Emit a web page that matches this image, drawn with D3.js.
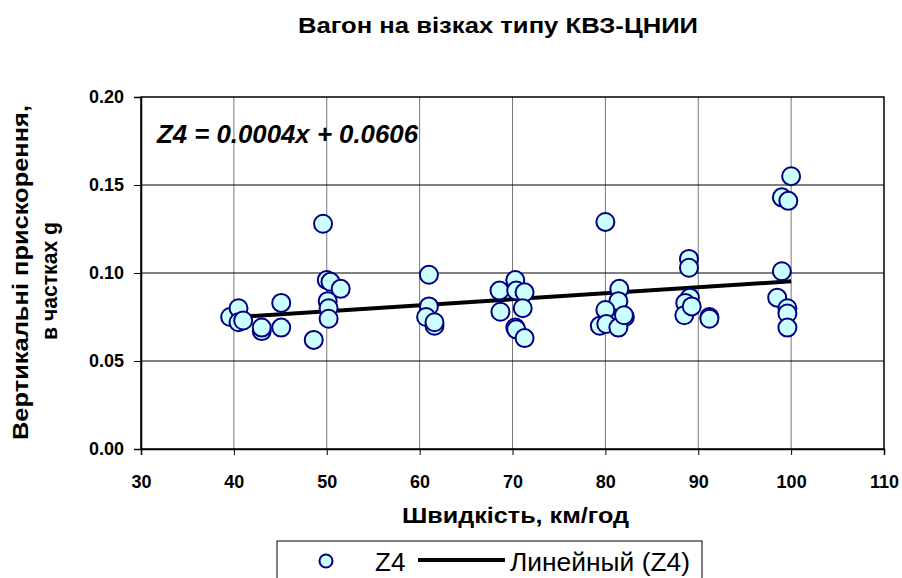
<!DOCTYPE html>
<html>
<head>
<meta charset="utf-8">
<script src="https://cdn.jsdelivr.net/npm/d3@7"></script>
<style>
  body { margin: 0; background: #fff; }
  svg { font-family: "Liberation Sans", Arial, sans-serif; }
</style>
</head>
<body>
<svg id="chart" width="902" height="578"></svg>
<script>
// speed, km/h
const speed = [
  39.6, 40.5, 40.5, 41.0, 43.0, 43.0, 45.1, 45.1, 48.6, 49.6, 50.0, 50.4, 51.5, 50.1, 50.2, 50.2,
  61.0, 61.0, 60.7, 61.6, 61.6, 68.6, 68.7, 70.3, 70.4, 71.3, 71.1, 70.3, 70.4, 71.3,
  80.0, 81.5, 81.4, 80.0, 79.4, 80.1, 82.1, 81.4, 82.0,
  89.0, 89.0, 89.1, 88.6, 88.5, 89.3, 91.2, 91.2,
  100.0, 99.0, 99.7, 99.0, 98.5, 99.6, 99.6, 99.6
];
// vertical acceleration, g
const accel = [
  0.075, 0.080, 0.072, 0.073, 0.067, 0.069, 0.083, 0.069, 0.062, 0.128, 0.096, 0.095, 0.091, 0.084, 0.080, 0.074,
  0.099, 0.081, 0.075, 0.070, 0.072, 0.090, 0.078, 0.096, 0.090, 0.089, 0.080, 0.069, 0.068, 0.063,
  0.129, 0.091, 0.084, 0.079, 0.070, 0.071, 0.075, 0.069, 0.076,
  0.108, 0.103, 0.086, 0.083, 0.076, 0.081, 0.075, 0.074,
  0.155, 0.143, 0.141, 0.101, 0.086, 0.080, 0.077, 0.069
];
const xTicks = [30, 40, 50, 60, 70, 80, 90, 100, 110];
const yTicks = [0, 0.05, 0.10, 0.15, 0.20];

const points = speed.map((s, i) => ({ x: s, y: accel[i] }));

const svg = d3.select('#chart');
const pl = 141, pr = 884, pt = 97, pb = 449;

const x = d3.scaleLinear().domain([30, 110]).range([pl, pr]);
const y = d3.scaleLinear().domain([0, 0.2]).range([pb, pt]);

// least squares trend
const mx = d3.mean(speed), my = d3.mean(accel);
const slope = d3.sum(points, d => (d.x - mx) * (d.y - my)) / d3.sum(points, d => (d.x - mx) ** 2);
const icpt = my - slope * mx;
const trend = d3.extent(speed).map(v => ({ x: v, y: icpt + slope * v }));

// title
svg.append('text')
  .attr('x', 298).attr('y', 33)
  .attr('textLength', 400).attr('lengthAdjust', 'spacingAndGlyphs')
  .style('font-size', '22px').style('font-weight', 'bold')
  .text('Вагон на візках типу КВЗ-ЦНИИ');

// grid
svg.append('g')
  .selectAll('line')
  .data(xTicks.slice(1, -1))
  .join('line')
  .attr('x1', d => x(d)).attr('x2', d => x(d))
  .attr('y1', pt).attr('y2', pb)
  .attr('stroke', '#777').attr('stroke-width', 1);

svg.append('g')
  .selectAll('line')
  .data(yTicks.slice(1, -1))
  .join('line')
  .attr('x1', pl).attr('x2', pr)
  .attr('y1', d => y(d)).attr('y2', d => y(d))
  .attr('stroke', '#000').attr('stroke-width', 1);

// plot border
svg.append('rect')
  .attr('x', pl).attr('y', pt)
  .attr('width', pr - pl).attr('height', pb - pt)
  .attr('fill', 'none').attr('stroke', '#000').attr('stroke-width', 1.5);

// axes
const xAxis = svg.append('g')
  .attr('transform', `translate(0,${pb})`)
  .call(d3.axisBottom(x).tickValues(xTicks).tickSize(6).tickPadding(20).tickFormat(d3.format('d')));
const yAxis = svg.append('g')
  .attr('transform', `translate(${pl},0)`)
  .call(d3.axisLeft(y).tickValues(yTicks).tickSize(7).tickPadding(10).tickFormat(d3.format('.2f')));

[xAxis, yAxis].forEach(a => {
  a.select('.domain').attr('stroke', '#000').attr('stroke-width', 1.5);
  a.selectAll('.tick line').attr('stroke', '#000');
  a.selectAll('.tick text')
    .attr('fill', '#000')
    .style('font-size', '18px')
    .style('font-weight', 'bold')
    .style('font-family', '"Liberation Sans", Arial, sans-serif');
});

// trend line
svg.append('path')
  .datum(trend)
  .attr('d', d3.line().x(d => x(d.x)).y(d => y(d.y)))
  .attr('stroke', '#000').attr('stroke-width', 4).attr('fill', 'none');

// points
svg.append('g')
  .selectAll('circle')
  .data(points)
  .join('circle')
  .attr('cx', d => x(d.x)).attr('cy', d => y(d.y))
  .attr('r', 9)
  .attr('fill', '#ccffff')
  .attr('stroke', '#000080').attr('stroke-width', 2);

// equation
svg.append('text')
  .attr('x', 157).attr('y', 143)
  .attr('textLength', 261).attr('lengthAdjust', 'spacingAndGlyphs')
  .style('font-size', '26px').style('font-weight', 'bold').style('font-style', 'italic')
  .text('Z4 = 0.0004x + 0.0606');

// axis titles
svg.append('text')
  .attr('x', 402).attr('y', 523)
  .attr('textLength', 227).attr('lengthAdjust', 'spacingAndGlyphs')
  .style('font-size', '22px').style('font-weight', 'bold')
  .text('Швидкість, км/год');

const yt = svg.append('g')
  .attr('transform', 'rotate(-90)')
  .style('font-size', '22px').style('font-weight', 'bold');
yt.append('text')
  .attr('x', -440).attr('y', 28)
  .attr('textLength', 335).attr('lengthAdjust', 'spacingAndGlyphs')
  .text('Вертикальні прискорення,');
yt.append('text')
  .attr('x', -340).attr('y', 57)
  .attr('textLength', 118).attr('lengthAdjust', 'spacingAndGlyphs')
  .text('в частках g');

// legend
const lg = svg.append('g');
lg.append('rect')
  .attr('x', 277).attr('y', 541).attr('width', 425).attr('height', 45)
  .attr('fill', '#fff').attr('stroke', '#000').attr('stroke-width', 1);
lg.append('circle')
  .attr('cx', 326).attr('cy', 561).attr('r', 6.5)
  .attr('fill', '#ccffff').attr('stroke', '#000080').attr('stroke-width', 2);
lg.append('text')
  .attr('x', 375).attr('y', 571)
  .style('font-size', '26px')
  .text('Z4');
lg.append('line')
  .attr('x1', 418).attr('x2', 505).attr('y1', 560).attr('y2', 560)
  .attr('stroke', '#000').attr('stroke-width', 4);
lg.append('text')
  .attr('x', 510).attr('y', 571)
  .attr('textLength', 180).attr('lengthAdjust', 'spacingAndGlyphs')
  .style('font-size', '26px')
  .text('Линейный (Z4)');
</script>
</body>
</html>
